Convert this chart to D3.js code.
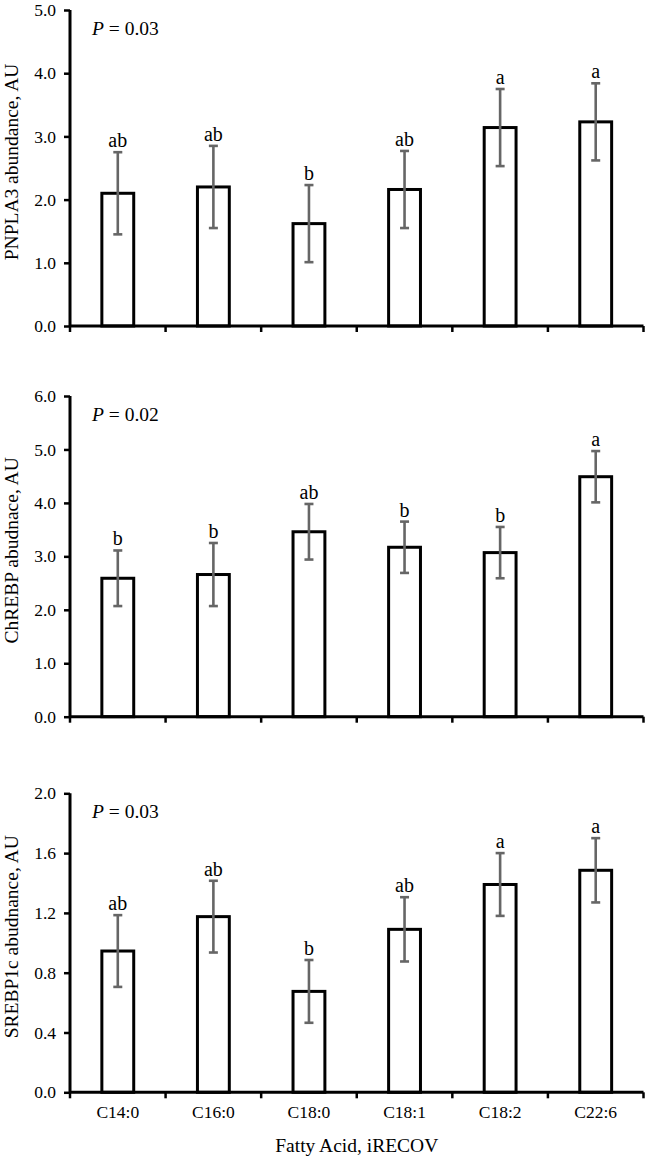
<!DOCTYPE html>
<html>
<head>
<meta charset="utf-8">
<script src="https://cdn.jsdelivr.net/npm/d3@7"></script>
<style>
  html, body { margin: 0; padding: 0; background: #fff; }
  svg { display: block; font-family: "Liberation Serif", "Times New Roman", serif; }
</style>
</head>
<body>
<svg id="chart" width="646" height="1158"></svg>
<script>
// ---- Data ----
const categories = ["C14:0", "C16:0", "C18:0", "C18:1", "C18:2", "C22:6"];

const pnpla3Mean = [2.10, 2.20, 1.62, 2.16, 3.14, 3.23];
const pnpla3SE   = [0.65, 0.65, 0.61, 0.61, 0.61, 0.61];
const pnpla3Sig  = ["ab", "ab", "b", "ab", "a", "a"];
const pnpla3Ticks = [0, 1, 2, 3, 4, 5];

const chrebpMean = [2.59, 2.66, 3.46, 3.17, 3.07, 4.49];
const chrebpSE   = [0.52, 0.59, 0.52, 0.48, 0.48, 0.48];
const chrebpSig  = ["b", "b", "ab", "b", "b", "a"];
const chrebpTicks = [0, 1, 2, 3, 4, 5, 6];

const srebpMean = [0.945, 1.175, 0.675, 1.09, 1.39, 1.485];
const srebpSE   = [0.24, 0.24, 0.21, 0.215, 0.21, 0.215];
const srebpSig  = ["ab", "ab", "b", "ab", "a", "a"];
const srebpTicks = [0, 0.4, 0.8, 1.2, 1.6, 2.0];

const panelLabels = ["PNPLA3 abundance, AU", "ChREBP abudnace, AU", "SREBP1c abudnance, AU"];
const pValues = ["0.03", "0.02", "0.03"];
const xTitle = "Fatty Acid, iRECOV";

// ---- Layout ----
const svg = d3.select("#chart");
const left = 70, right = 643.5;
const panels = [
  { mean: pnpla3Mean, se: pnpla3SE, sig: pnpla3Sig, ticks: pnpla3Ticks, max: 5, top: 10,    bottom: 326,    label: panelLabels[0], p: pValues[0] },
  { mean: chrebpMean, se: chrebpSE, sig: chrebpSig, ticks: chrebpTicks, max: 6, top: 396,   bottom: 716.7,  label: panelLabels[1], p: pValues[1] },
  { mean: srebpMean,  se: srebpSE,  sig: srebpSig,  ticks: srebpTicks,  max: 2, top: 793.3, bottom: 1092.3, label: panelLabels[2], p: pValues[2] }
];

const x = d3.scaleBand().domain(categories).range([left, right]).padding(0);
const barW = x.bandwidth() / 3;
const errColor = "#666666";

panels.forEach((pn, pi) => {
  const y = d3.scaleLinear().domain([0, pn.max]).range([pn.bottom, pn.top]);
  const g = svg.append("g");

  // bars
  g.selectAll("rect.bar").data(pn.mean).enter().append("rect")
    .attr("x", (d, i) => x(categories[i]) + x.bandwidth() / 2 - barW / 2)
    .attr("y", d => y(d))
    .attr("width", barW)
    .attr("height", d => y(0) - y(d))
    .attr("fill", "#fff").attr("stroke", "#000").attr("stroke-width", 3);

  // error bars
  const eb = g.selectAll("g.err").data(pn.mean).enter().append("g");
  eb.append("line")
    .attr("x1", (d, i) => x(categories[i]) + x.bandwidth() / 2)
    .attr("x2", (d, i) => x(categories[i]) + x.bandwidth() / 2)
    .attr("y1", (d, i) => y(d - pn.se[i]))
    .attr("y2", (d, i) => y(d + pn.se[i]))
    .attr("stroke", errColor).attr("stroke-width", 2.6);
  [1, -1].forEach(s => {
    eb.append("line")
      .attr("x1", (d, i) => x(categories[i]) + x.bandwidth() / 2 - 4.5)
      .attr("x2", (d, i) => x(categories[i]) + x.bandwidth() / 2 + 4.5)
      .attr("y1", (d, i) => y(d + s * pn.se[i]))
      .attr("y2", (d, i) => y(d + s * pn.se[i]))
      .attr("stroke", errColor).attr("stroke-width", 2.6);
  });

  // significance letters
  g.selectAll("text.sig").data(pn.mean).enter().append("text")
    .attr("x", (d, i) => x(categories[i]) + x.bandwidth() / 2)
    .attr("y", (d, i) => y(d + pn.se[i]) - 5)
    .attr("text-anchor", "middle")
    .attr("font-size", 20)
    .text((d, i) => pn.sig[i]);

  // y axis
  const yAxis = d3.axisLeft(y).tickValues(pn.ticks).tickFormat(d3.format(".1f")).tickSize(6).tickPadding(8);
  const ya = g.append("g").attr("transform", `translate(${left},0)`).call(yAxis);
  ya.select(".domain").attr("stroke", "#000").attr("stroke-width", 3).attr("d", `M0,${pn.top}V${pn.bottom}`);
  ya.selectAll(".tick line").attr("stroke", "#000").attr("stroke-width", 2.5);
  ya.selectAll(".tick text").attr("font-size", 17.5).attr("font-family", "Liberation Serif, serif").attr("fill", "#000");

  // x axis: line + ticks at category boundaries
  const bounds = categories.map(c => x(c)).concat([right]);
  g.append("line")
    .attr("x1", left).attr("x2", right)
    .attr("y1", pn.bottom).attr("y2", pn.bottom)
    .attr("stroke", "#000").attr("stroke-width", 3);
  g.selectAll("line.xt").data(bounds).enter().append("line")
    .attr("x1", d => d).attr("x2", d => d)
    .attr("y1", pn.bottom).attr("y2", pn.bottom + 6)
    .attr("stroke", "#000").attr("stroke-width", 2.5);

  // y label
  g.append("text")
    .attr("transform", `translate(18,${(pn.top + pn.bottom) / 2 - 6}) rotate(-90)`)
    .attr("text-anchor", "middle")
    .attr("font-size", 19.5)
    .text(pn.label);

  // P value
  const pt = g.append("text").attr("x", 92).attr("y", pn.top + 25).attr("font-size", 19.5);
  pt.append("tspan").attr("font-style", "italic").text("P");
  pt.append("tspan").text(" = " + pn.p);

  // category labels only on bottom panel
  if (pi === panels.length - 1) {
    g.selectAll("text.cat").data(categories).enter().append("text")
      .attr("x", d => x(d) + x.bandwidth() / 2)
      .attr("y", pn.bottom + 26)
      .attr("text-anchor", "middle")
      .attr("font-size", 17.5)
      .text(d => d);
    g.append("text")
      .attr("x", (left + right) / 2)
      .attr("y", 1152)
      .attr("text-anchor", "middle")
      .attr("font-size", 19.5)
      .text(xTitle);
  }
});
</script>
</body>
</html>
